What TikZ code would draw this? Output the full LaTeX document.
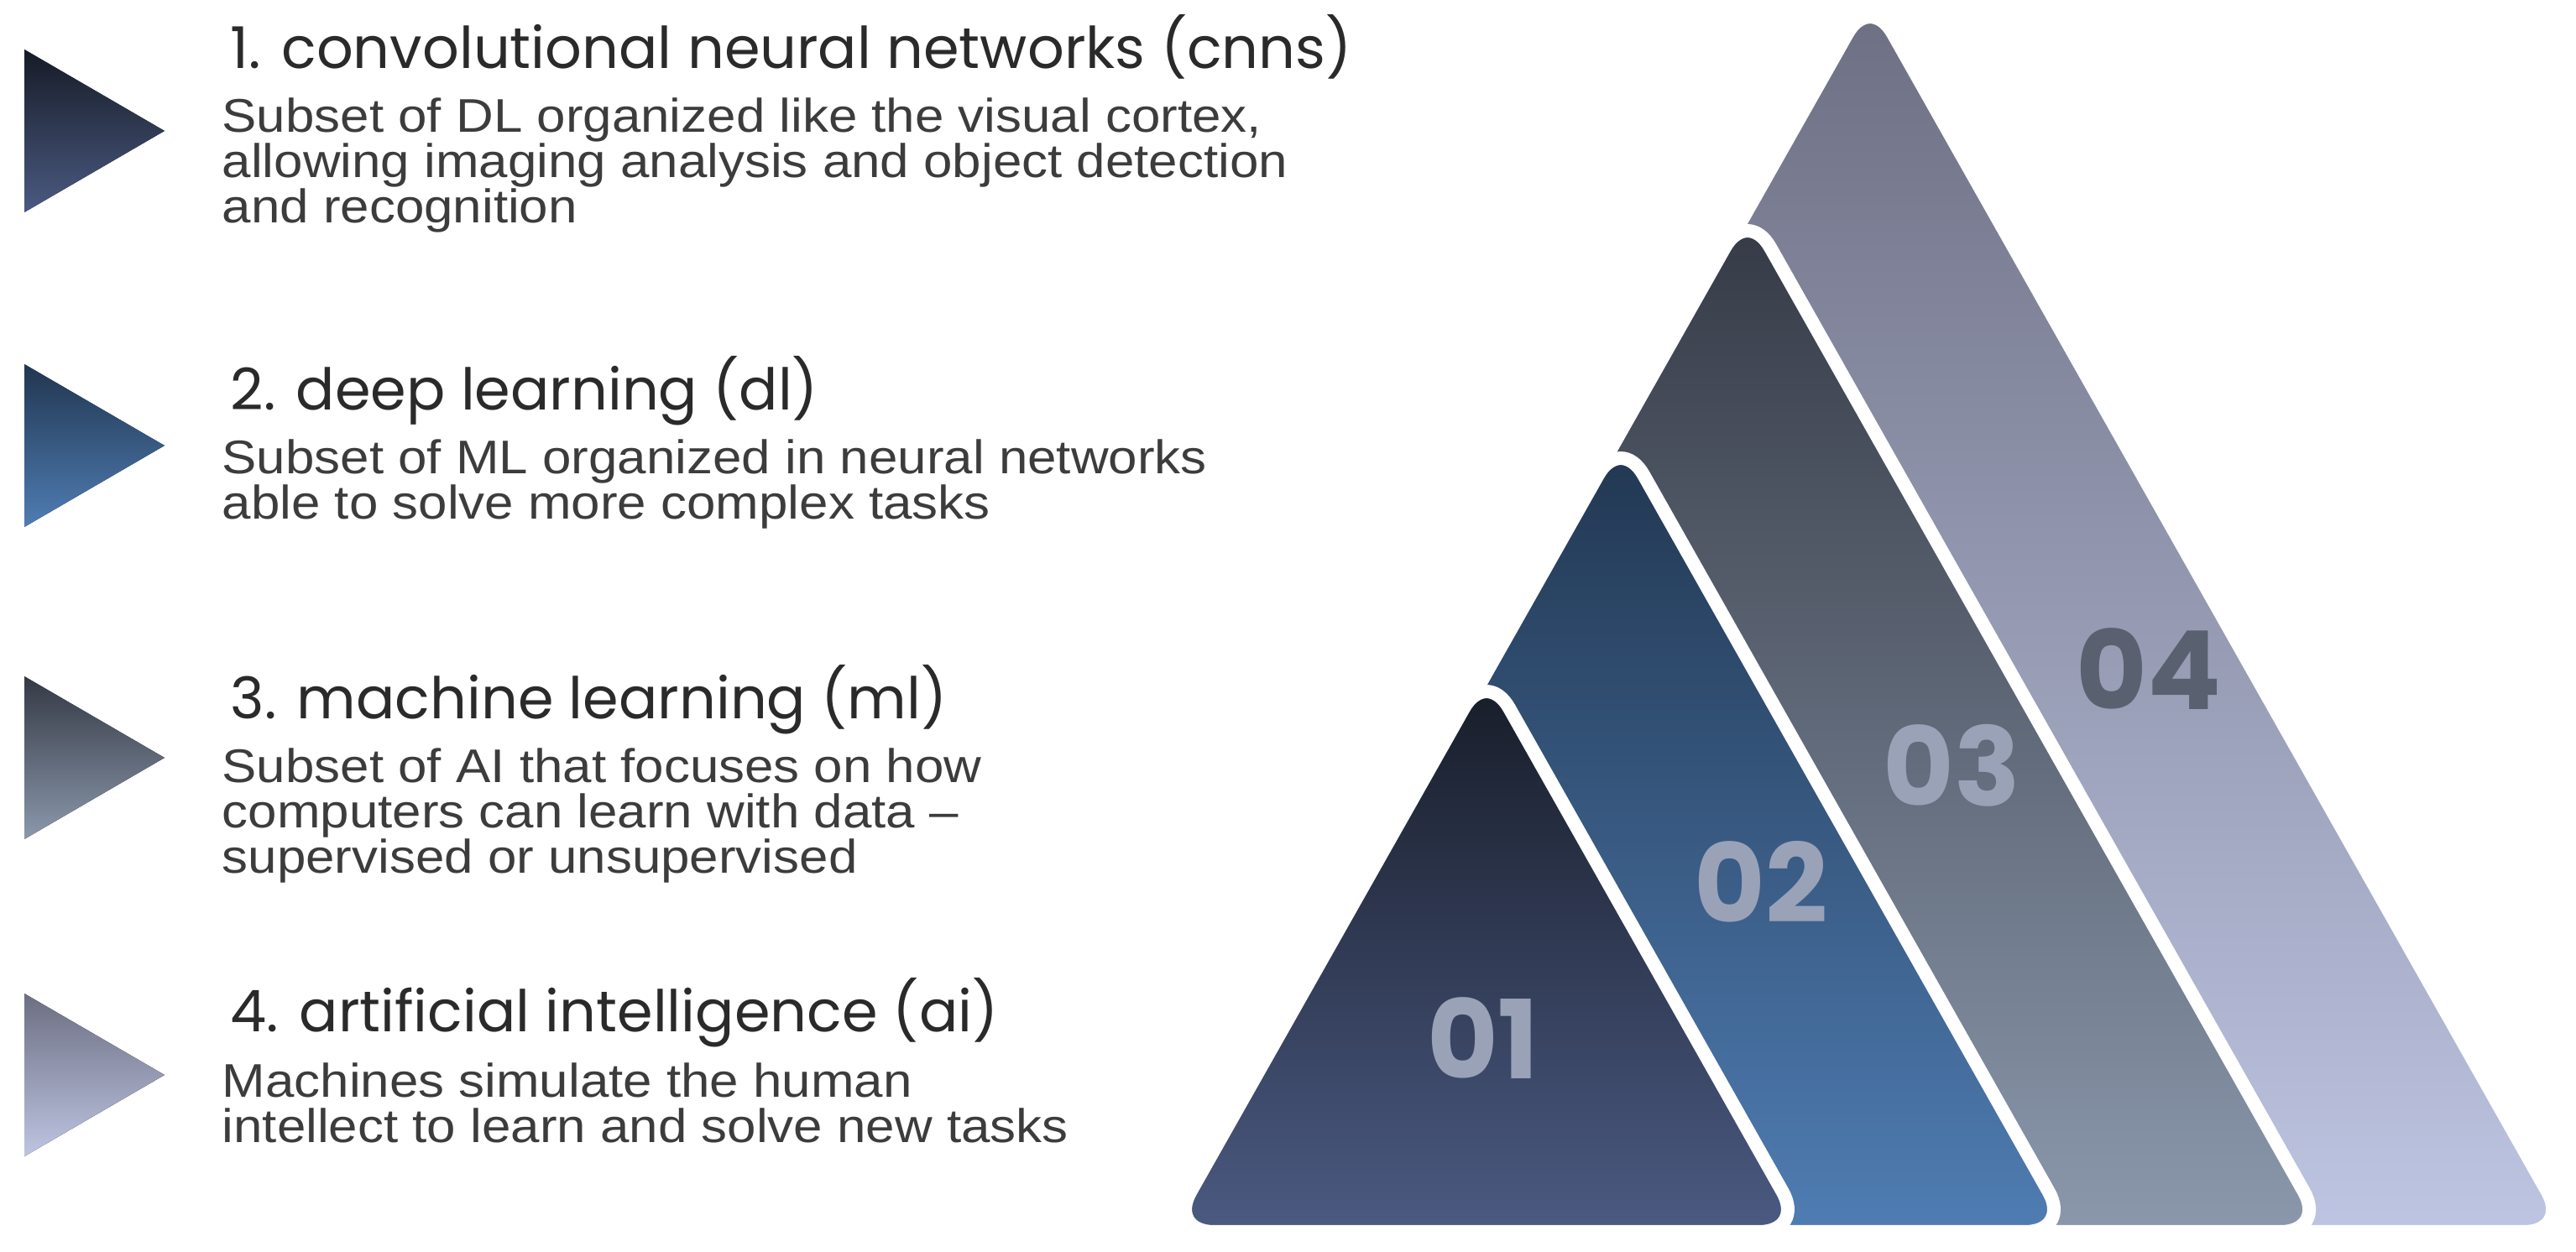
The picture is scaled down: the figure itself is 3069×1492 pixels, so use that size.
\documentclass[tikz,border=0pt]{standalone}
\usepackage{fontspec}
\setmainfont{Liberation Sans}[FakeStretch=1.1]
\newfontfamily\titlefont{Poppins}
\usetikzlibrary{positioning}

\definecolor{cnnTop}{HTML}{161B26}\definecolor{cnnBot}{HTML}{4B5A82}
\definecolor{dlTop}{HTML}{213650}\definecolor{dlBot}{HTML}{4F7DB3}
\definecolor{mlTop}{HTML}{343944}\definecolor{mlBot}{HTML}{8B98AC}
\definecolor{aiTop}{HTML}{6C6E82}\definecolor{aiBot}{HTML}{BEC5E2}
\definecolor{headcol}{HTML}{2A2A2A}
\definecolor{bodycol}{HTML}{3C3C3C}
\definecolor{numlight}{HTML}{9AA2B8}
\definecolor{numdark}{HTML}{596170}

\begin{document}
\begin{tikzpicture}[
    x=0.01cm, y=-0.01cm,
    heading/.style={anchor=base west, inner sep=0pt, text=headcol, font=\titlefont\fontsize{19.5}{21}\selectfont},
    desc/.style={anchor=north west, inner sep=0pt, text=bodycol, align=left, font=\fontsize{16}{15.4}\selectfont},
    layer/.style={draw=white, line width=0.16cm, rounded corners=0.55cm, line join=round},
    number/.style={font=\titlefont\bfseries\fontsize{37}{40}\selectfont, inner sep=0pt}
]
\useasboundingbox (0,0) rectangle (3069,1492);

% Left markers
\foreach \y/\c in {59/cnn, 434/dl, 806/ml, 1184/ai} {
    \fill[top color=\c Top, bottom color=\c Bot] (29,\y) -- (196,\y+97) -- (29,\y+194) -- cycle;
}

% Headings and descriptions
\node[heading] (cnn-title) at (274,82) {1. convolutional neural networks (cnns)};
\node[desc] (cnn-text) at (264,116) {Subset of DL organized like the visual cortex,\\allowing imaging analysis and object detection\\and recognition};

\node[heading] (dl-title) at (274,489) {2. deep learning (dl)};
\node[desc] (dl-text) at (264,523) {Subset of ML organized in neural networks\\able to solve more complex tasks};

\node[heading] (ml-title) at (274,857) {3. machine learning (ml)};
\node[desc] (ml-text) at (264,891) {Subset of AI that focuses on how\\computers can learn with data --\\supervised or unsupervised};

\node[heading] (ai-title) at (274,1229) {4. artificial intelligence (ai)};
\node[desc] (ai-text) at (264,1266) {Machines simulate the human\\intellect to learn and solve new tasks};

% Pyramid layers, back to front
\foreach \ax/\ay/\c in {2228/-8/ai, 2082/247/ml, 1931/518/dl, 1771/796/cnn} {
    \path[layer, top color=\c Top, bottom color=\c Bot]
        (\ax,\ay) -- ({\ax+0.565*(1468-\ay)},1468) -- ({\ax-0.565*(1468-\ay)},1468) -- cycle;
}

% Layer numbers
\node[number, text=numlight] (num-cnn) at (1767,1237) {01};
\node[number, text=numlight] (num-dl) at (2098,1051) {02};
\node[number, text=numlight] (num-ml) at (2325,912) {03};
\node[number, text=numdark] (num-ai) at (2560,797) {04};

\end{tikzpicture}
\end{document}
